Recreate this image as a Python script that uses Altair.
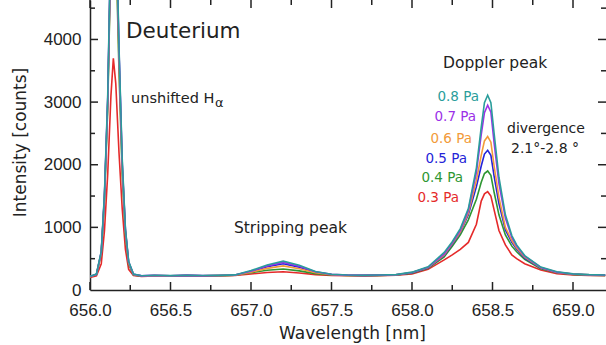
import altair as alt
import pandas as pd

# ---------------- data ----------------
wavelength = [656.00, 656.04, 656.07, 656.09, 656.11, 656.13, 656.145, 656.16, 656.18, 656.20,
              656.22, 656.24, 656.27, 656.32, 656.40, 656.50, 656.60, 656.70, 656.80, 656.90,
              657.00, 657.10, 657.20, 657.30, 657.40, 657.50, 657.60, 657.70, 657.80, 657.90,
              658.00, 658.10, 658.20, 658.25, 658.30, 658.35, 658.40, 658.43, 658.45, 658.47,
              658.49, 658.51, 658.54, 658.58, 658.62, 658.65, 658.70, 658.80, 658.90, 659.00,
              659.10, 659.20]

p03 = [200, 225, 420, 950, 1850, 3100, 3700, 3300, 2200, 1300, 650, 330, 230, 215,
       225, 220, 228, 222, 226, 232,
       255, 280, 292, 272, 246, 233, 228, 226, 230, 235,
       255, 330, 480, 560, 650, 760, 1050, 1420, 1535, 1570, 1500, 1280, 950, 720, 560, 500,
       420, 320, 262, 240, 233, 230]
p04 = [210, 245, 580, 1450, 2900, 5400, 6500, 5600, 3500, 1850, 880, 410, 240, 222,
       228, 224, 230, 226, 229, 236,
       275, 315, 335, 305, 262, 240, 232, 230, 233, 240,
       270, 345, 530, 700, 880, 1120, 1450, 1720, 1860, 1900, 1830, 1560, 1200, 880, 700, 610,
       490, 340, 275, 250, 238, 234]
p05 = [215, 250, 600, 1500, 3000, 5600, 6800, 6000, 3800, 2000, 950, 440, 250, 225,
       232, 226, 233, 228, 231, 238,
       295, 370, 420, 365, 285, 248, 236, 233, 236, 242,
       275, 355, 550, 730, 920, 1200, 1650, 1980, 2170, 2230, 2150, 1820, 1380, 960, 760, 650,
       510, 350, 280, 252, 240, 236]
p06 = [212, 248, 590, 1480, 2950, 5500, 6600, 5800, 3650, 1950, 920, 430, 245, 224,
       230, 225, 231, 227, 230, 237,
       285, 345, 385, 340, 275, 245, 234, 232, 235, 241,
       278, 358, 560, 740, 930, 1230, 1750, 2150, 2380, 2450, 2360, 1980, 1480, 1000, 790, 670,
       525, 355, 282, 254, 241, 237]
p07 = [214, 250, 610, 1520, 3050, 5700, 6900, 6100, 3850, 2050, 960, 450, 252, 226,
       233, 227, 234, 229, 232, 239,
       300, 385, 440, 380, 290, 250, 237, 234, 237, 243,
       280, 362, 575, 755, 950, 1270, 1880, 2480, 2830, 2950, 2840, 2350, 1700, 1150, 840, 700,
       540, 360, 285, 256, 243, 238]
p08 = [218, 255, 620, 1550, 3100, 5800, 7000, 6200, 3900, 2100, 980, 460, 255, 228,
       235, 229, 236, 231, 234, 241,
       310, 400, 460, 395, 295, 252, 239, 236, 239, 245,
       285, 370, 600, 770, 980, 1300, 1950, 2600, 2990, 3110, 2990, 2500, 1800, 1200, 870, 720,
       550, 365, 290, 258, 245, 240]

series_names = ["0.3 Pa", "0.4 Pa", "0.5 Pa", "0.6 Pa", "0.7 Pa", "0.8 Pa"]
series_values = [p03, p04, p05, p06, p07, p08]
series_colors = ["#e52a2a", "#2e9632", "#2424d8", "#f29a3a", "#9b30e8", "#2a9d9b"]

x_major = [656.0, 656.5, 657.0, 657.5, 658.0, 658.5, 659.0]
x_minor = [656.25, 656.75, 657.25, 657.75, 658.25, 658.75]
y_major = [0, 1000, 2000, 3000, 4000]
y_minor = [500, 1500, 2500, 3500, 4500]

# pressure labels (position in data units)
plabel_text = ["0.8 Pa", "0.7 Pa", "0.6 Pa", "0.5 Pa", "0.4 Pa", "0.3 Pa"]
plabel_x = [658.416, 658.398, 658.373, 658.342, 658.317, 658.292]
plabel_y = [3018, 2698, 2352, 2028, 1729, 1405]
plabel_color = ["#2a9d9b", "#9b30e8", "#f29a3a", "#2424d8", "#2e9632", "#e52a2a"]

# other annotations
ann_text = ["Deuterium", "unshifted H", "α", "Doppler peak", "Stripping peak",
            "divergence", "2.1°-2.8 °"]
ann_x = [656.224, 656.255, 656.776, 658.193, 656.894, 658.590, 658.615]
ann_y = [4023, 2986, 2922, 3544, 910, 2507, 2187]
ann_size = [21.5, 14.5, 13, 15.5, 15.5, 14, 14]

# ---------------- build tables ----------------
rows = []
for name, vals in zip(series_names, series_values):
    for w, v in zip(wavelength, vals):
        rows.append({"wl": w, "counts": v, "p": name})
spectra = pd.DataFrame(rows)

W, H = 516, 290
XMAX = 656.0 + W / 161.0
xs = alt.Scale(domain=[656.0, XMAX], nice=False, zero=False)
ys = alt.Scale(domain=[0, 4630], nice=False, zero=False)
INK = "#222222"

x_axis = alt.Axis(values=x_major, format=".1f", ticks=False, tickSize=0, grid=False,
                  labelFont="Liberation Sans", labelFontSize=17, labelColor=INK,
                  labelPadding=12, labelFlush=False, labelOverlap=False,
                  domainColor=INK, domainWidth=1.5,
                  title="Wavelength [nm]", titleFont="DejaVu Sans", titleFontSize=17,
                  titleFontWeight="normal", titleColor=INK, titleBaseline="alphabetic",
                  titleAlign="center", titleX=262, titleY=48)
y_axis = alt.Axis(values=y_major, format="d", ticks=False, tickSize=0, grid=False,
                  labelFont="Liberation Sans", labelFontSize=17, labelColor=INK,
                  labelPadding=9, labelFlush=False, labelOverlap=False,
                  domainColor=INK, domainWidth=1.5,
                  title="Intensity [counts]", titleFont="DejaVu Sans", titleFontSize=17,
                  titleFontWeight="normal", titleColor=INK, titleBaseline="alphabetic",
                  titleAlign="center", titleAngle=270, titleX=-65, titleY=142)

X = alt.X("wl:Q", scale=xs, axis=x_axis)
Y = alt.Y("counts:Q", scale=ys, axis=y_axis)

lines = alt.Chart(spectra).mark_line(strokeWidth=1.6, clip=True).encode(
    x=X, y=Y,
    color=alt.Color("p:N", scale=alt.Scale(domain=series_names, range=series_colors), legend=None),
)

def xrule(vals, y0, y1):
    return alt.Chart(pd.DataFrame({"wl": vals})).mark_rule(color=INK, strokeWidth=1.5).encode(
        x=X, y=alt.value(y0), y2=alt.value(y1))

def yrule(vals, x0, x1):
    return alt.Chart(pd.DataFrame({"counts": vals})).mark_rule(color=INK, strokeWidth=1.5).encode(
        y=Y, x=alt.value(x0), x2=alt.value(x1))

ticks = [
    xrule(x_major, H, H - 8), xrule(x_minor, H, H - 5),
    xrule(x_major, 0, 8), xrule(x_minor, 0, 5),
    yrule(y_major[1:], 0, 8), yrule(y_minor, 0, 5),
    yrule(y_major[1:], W, W - 8), yrule(y_minor, W, W - 5),
]

plabels = alt.Chart(pd.DataFrame({"wl": plabel_x, "counts": plabel_y, "t": plabel_text,
                                  "c": plabel_color})).mark_text(
    align="right", baseline="alphabetic", font="DejaVu Sans", fontSize=13.5).encode(
    x=X, y=Y, text="t:N", color=alt.Color("c:N", scale=None))

anns = alt.Chart(pd.DataFrame({"wl": ann_x, "counts": ann_y, "t": ann_text,
                               "s": ann_size})).mark_text(
    align="left", baseline="alphabetic", font="DejaVu Sans", color=INK).encode(
    x=X, y=Y, text="t:N", size=alt.Size("s:Q", scale=None))

chart = alt.layer(lines, *ticks, plabels, anns).properties(
    width=W, height=H,
    autosize=alt.AutoSizeParams(type="none"),
    padding={"left": 90, "top": 0, "right": 0, "bottom": 55},
    background="white",
).configure_view(strokeWidth=0)

chart.save("out.html", embed_options={"renderer": "svg", "actions": False})
